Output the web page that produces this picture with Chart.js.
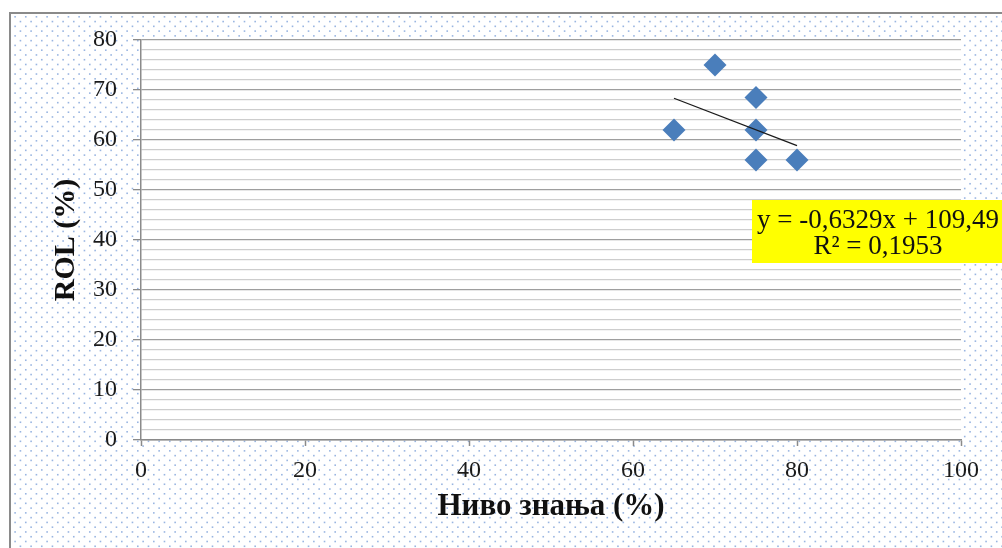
<!DOCTYPE html>
<html>
<head>
<meta charset="utf-8">
<script src="https://cdn.jsdelivr.net/npm/chart.js@4.4.1/dist/chart.umd.min.js"></script>
<style>
  html, body { margin: 0; padding: 0; background: #ffffff; }
  #wrap { width: 1002px; height: 548px; position: relative; }
</style>
</head>
<body>
<div id="wrap"><canvas id="chart" width="1002" height="548"></canvas></div>
<script>
// Knowledge level (%) vs ROL (%)
const knowledgeLevel = [65, 70, 75, 75, 75, 80];
const rolValues = [62, 75, 68.5, 62, 56, 56];

// Linear trendline shown in the label box
const trendSlope = -0.6329;
const trendIntercept = 109.49;
const trendR2 = 0.1953;

const xTitle = 'Ниво знања (%)';
const yTitle = 'ROL (%)';

const serif = "'Times New Roman', 'Liberation Serif', serif";

const fmtComma = (v) => String(v).replace('.', ',');
const eqLine1 = 'y = ' + fmtComma(trendSlope) + 'x + ' + fmtComma(trendIntercept);
const eqLine2 = 'R² = ' + fmtComma(trendR2);

// Trendline spans the x range of the data
const xMin = Math.min(...knowledgeLevel);
const xMax = Math.max(...knowledgeLevel);
const trendPoints = [xMin, xMax].map(x => ({ x: x, y: trendSlope * x + trendIntercept }));

const scatterPoints = knowledgeLevel.map((x, i) => ({ x: x, y: rolValues[i] }));

// Dotted chart background, frame and white plot area
const backdrop = {
  id: 'backdrop',
  beforeDraw(chart) {
    const { ctx, width, height, chartArea } = chart;
    ctx.save();
    ctx.fillStyle = '#ffffff';
    ctx.fillRect(0, 0, width, height);
    ctx.fillStyle = 'rgba(70,120,200,0.55)';
    let row = 0;
    for (let y = 16; y < height; y += 4.77, row++) {
      const start = 14.3 + (row % 2 ? 5.33 : 0);
      for (let x = start; x < width; x += 10.67) {
        ctx.fillRect(x, y, 1.6, 1.6);
      }
    }
    ctx.strokeStyle = '#8a8a8a';
    ctx.lineWidth = 2;
    ctx.strokeRect(10, 13, width + 20, height + 20);
    ctx.fillStyle = '#ffffff';
    ctx.fillRect(chartArea.left, chartArea.top, chartArea.right - chartArea.left, chartArea.bottom - chartArea.top);
    ctx.restore();
  }
};

// Yellow equation label
const equationBox = {
  id: 'equationBox',
  afterDraw(chart) {
    const { ctx } = chart;
    ctx.save();
    ctx.fillStyle = '#ffff00';
    ctx.fillRect(752, 200, 260, 63);
    ctx.fillStyle = '#111111';
    ctx.font = '27px ' + serif;
    ctx.textAlign = 'center';
    ctx.textBaseline = 'middle';
    ctx.fillText(eqLine1, 878, 221);
    ctx.fillText(eqLine2, 878, 247);
    ctx.restore();
  }
};

new Chart(document.getElementById('chart'), {
  type: 'scatter',
  data: {
    datasets: [
      {
        label: 'ROL',
        data: scatterPoints,
        pointStyle: 'rectRot',
        pointRadius: 11.5,
        pointHoverRadius: 11.5,
        backgroundColor: '#4a7ebb',
        borderColor: 'rgba(74,126,187,0)',
        borderWidth: 0,
        order: 2
      },
      {
        label: 'trend',
        type: 'line',
        data: trendPoints,
        borderColor: '#1a1a1a',
        borderWidth: 1.3,
        pointRadius: 0,
        fill: false,
        order: 1
      }
    ]
  },
  options: {
    responsive: false,
    animation: false,
    events: [],
    layout: { padding: { left: 0, right: 41, top: 40, bottom: 0 } },
    plugins: {
      legend: { display: false },
      tooltip: { enabled: false }
    },
    scales: {
      x: {
        type: 'linear',
        min: 0,
        max: 100,
        afterFit(scale) { scale.height = 108; },
        ticks: {
          stepSize: 20,
          padding: 10,
          color: '#1a1a1a',
          font: { family: serif, size: 24 }
        },
        grid: {
          drawOnChartArea: false,
          tickLength: 6,
          tickColor: '#8a8a8a',
          tickWidth: 1.5
        },
        border: { color: '#8a8a8a', width: 1.5 },
        title: {
          display: true,
          text: xTitle,
          color: '#111111',
          font: { family: serif, size: 31, weight: 'bold' },
          padding: { top: 0, bottom: 22 }
        }
      },
      y: {
        type: 'linear',
        min: 0,
        max: 80,
        afterFit(scale) { scale.width = 141; },
        ticks: {
          stepSize: 2,
          autoSkip: false,
          padding: 16,
          color: '#1a1a1a',
          font: { family: serif, size: 24 },
          callback: (v) => (v % 10 === 0 ? v : '')
        },
        grid: {
          tickLength: 8,
          lineWidth: 1.3,
          color: (c) => (c.tick && c.tick.value % 10 === 0 ? '#9e9e9e' : '#cdcdcd'),
          tickColor: (c) => (c.tick && c.tick.value % 10 === 0 ? '#8a8a8a' : 'rgba(0,0,0,0)')
        },
        border: { color: '#8a8a8a', width: 1.5 },
        title: {
          display: true,
          text: yTitle,
          color: '#111111',
          font: { family: serif, size: 30, weight: 'bold' },
          padding: { top: 48, bottom: 0 }
        }
      }
    }
  },
  plugins: [backdrop, equationBox]
});
</script>
</body>
</html>
